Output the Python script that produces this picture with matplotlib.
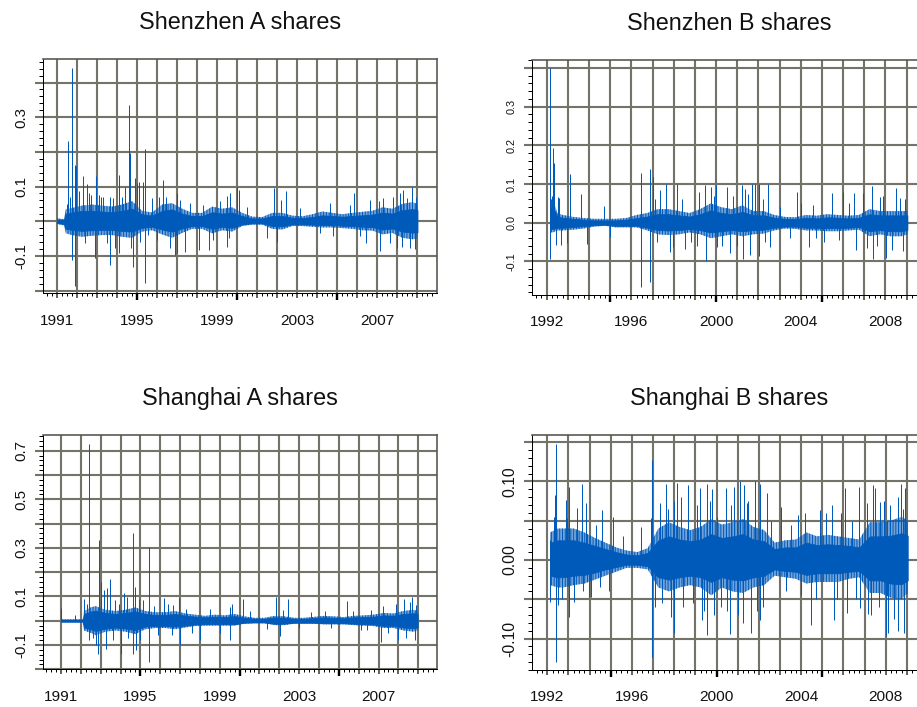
import matplotlib
matplotlib.use("Agg")
import matplotlib.pyplot as plt
import matplotlib.transforms as mtransforms
from matplotlib.ticker import FixedLocator, FixedFormatter
import numpy as np

plt.rcParams['font.family'] = ['Liberation Sans', 'DejaVu Sans']
plt.rcParams['hatch.linewidth'] = 0.7

# ---------------- data ----------------
titles = ["Shenzhen A shares", "Shenzhen B shares", "Shanghai A shares", "Shanghai B shares"]

# Shenzhen A: times, outer envelope of the dense band, solid inner band, and single spikes
sza_core_t = [1991.00, 1991.35, 1991.45, 1991.75, 1992.25, 1992.75, 1993.25, 1993.75, 1994.25, 1994.75,
              1995.25, 1995.75, 1996.25, 1996.75, 1997.25, 1997.75, 1998.25, 1998.75, 1999.25, 1999.75,
              2000.25, 2000.75, 2001.25, 2001.75, 2002.25, 2002.75, 2003.25, 2003.75, 2004.25, 2004.75,
              2005.25, 2005.75, 2006.25, 2006.75, 2007.25, 2007.75, 2008.25, 2008.75, 2009.00]
sza_outer_hi = [0.008, 0.006, 0.035, 0.038, 0.045, 0.048, 0.045, 0.042, 0.048, 0.058,
                0.030, 0.025, 0.048, 0.052, 0.036, 0.024, 0.024, 0.042, 0.036, 0.040,
                0.024, 0.013, 0.012, 0.024, 0.024, 0.016, 0.014, 0.020, 0.028, 0.024,
                0.020, 0.024, 0.027, 0.030, 0.040, 0.036, 0.050, 0.055, 0.050]
sza_outer_lo = [-0.008, -0.012, -0.035, -0.040, -0.045, -0.042, -0.040, -0.040, -0.045, -0.048,
                -0.030, -0.026, -0.038, -0.048, -0.034, -0.022, -0.022, -0.035, -0.026, -0.030,
                -0.014, -0.010, -0.010, -0.022, -0.024, -0.014, -0.014, -0.016, -0.018, -0.018,
                -0.020, -0.022, -0.026, -0.027, -0.038, -0.034, -0.048, -0.052, -0.050]
sza_dense_hi = [0.005, 0.004, 0.022, 0.025, 0.030, 0.030, 0.028, 0.026, 0.030, 0.036,
                0.020, 0.016, 0.030, 0.034, 0.022, 0.015, 0.015, 0.026, 0.022, 0.025,
                0.015, 0.008, 0.008, 0.015, 0.015, 0.010, 0.009, 0.012, 0.017, 0.015,
                0.013, 0.015, 0.017, 0.019, 0.025, 0.022, 0.032, 0.035, 0.032]
sza_dense_lo = [-0.005, -0.008, -0.022, -0.025, -0.028, -0.026, -0.025, -0.025, -0.028, -0.030,
                -0.019, -0.016, -0.024, -0.030, -0.021, -0.014, -0.014, -0.022, -0.016, -0.019,
                -0.009, -0.006, -0.006, -0.014, -0.015, -0.009, -0.009, -0.010, -0.011, -0.011,
                -0.013, -0.014, -0.016, -0.017, -0.024, -0.021, -0.030, -0.033, -0.032]
sza_spikes = [(1991.48, 0.050), (1991.57, 0.232), (1991.65, 0.071), (1991.77, 0.441), (1991.77, -0.112),
              (1991.90, 0.163), (1991.90, -0.188), (1991.95, 0.160), (1992.11, 0.086), (1992.28, 0.131),
              (1992.40, -0.063), (1992.48, 0.108), (1992.61, 0.081), (1992.68, 0.076), (1992.88, -0.107),
              (1992.93, 0.131), (1993.08, 0.076), (1993.18, 0.070), (1993.31, 0.071), (1993.51, -0.063),
              (1993.65, -0.127), (1993.65, 0.070), (1993.81, 0.066), (1993.90, -0.078), (1994.10, 0.134),
              (1994.10, -0.092), (1994.23, 0.071), (1994.40, 0.100), (1994.58, 0.336), (1994.65, 0.196),
              (1994.70, -0.078), (1994.78, -0.133), (1994.90, 0.124), (1994.98, 0.110), (1995.12, 0.114),
              (1995.14, -0.059), (1995.32, 0.114), (1995.41, 0.209), (1995.41, -0.179), (1995.55, -0.040),
              (1995.73, 0.066), (1995.98, -0.054), (1996.10, 0.070), (1996.30, 0.119), (1996.47, 0.071),
              (1996.64, -0.078), (1996.88, -0.097), (1996.97, -0.092), (1997.00, 0.080), (1997.14, 0.062),
              (1997.39, -0.088), (1997.64, 0.052), (1998.10, -0.083), (1998.30, 0.047), (1998.60, -0.083),
              (1998.80, -0.054), (1999.14, 0.057), (1999.50, 0.073), (1999.50, -0.073), (1999.57, -0.049),
              (1999.64, 0.081), (2000.00, 0.100), (2000.10, 0.090), (2000.47, 0.042), (2001.47, -0.049),
              (2001.83, 0.095), (2002.00, -0.059), (2002.21, 0.062), (2002.46, 0.086), (2003.13, 0.038),
              (2004.13, -0.035), (2004.63, 0.052), (2004.79, -0.044), (2005.63, 0.047), (2005.83, 0.081),
              (2006.12, -0.044), (2006.45, -0.063), (2006.62, 0.062), (2007.10, 0.057), (2007.12, -0.086),
              (2007.29, 0.066), (2007.62, -0.063), (2007.79, 0.071), (2008.00, -0.078), (2008.12, 0.081),
              (2008.22, -0.073), (2008.28, 0.090), (2008.48, 0.067), (2008.62, -0.078), (2008.74, 0.100),
              (2008.87, -0.081), (2008.95, 0.071)]

# Shenzhen B
szb_core_t = [1992.16, 1992.30, 1992.50, 1992.75, 1993.25, 1993.75, 1994.25, 1994.75, 1995.25, 1995.75,
              1996.25, 1996.75, 1997.25, 1997.75, 1998.25, 1998.75, 1999.25, 1999.75, 2000.25, 2000.75,
              2001.25, 2001.75, 2002.25, 2002.75, 2003.25, 2003.75, 2004.25, 2004.75, 2005.25, 2005.75,
              2006.25, 2006.75, 2007.25, 2007.75, 2008.25, 2008.75, 2009.04]
szb_outer_hi = [0.060, 0.060, 0.025, 0.020, 0.015, 0.012, 0.010, 0.010, 0.010, 0.012,
                0.020, 0.025, 0.035, 0.035, 0.030, 0.025, 0.035, 0.050, 0.040, 0.035,
                0.045, 0.030, 0.030, 0.020, 0.015, 0.014, 0.020, 0.018, 0.022, 0.020,
                0.018, 0.020, 0.035, 0.030, 0.030, 0.030, 0.030]
szb_outer_lo = [-0.025, -0.025, -0.020, -0.020, -0.018, -0.015, -0.010, -0.008, -0.012, -0.012,
                -0.012, -0.020, -0.030, -0.032, -0.030, -0.025, -0.030, -0.040, -0.035, -0.030,
                -0.035, -0.030, -0.028, -0.020, -0.015, -0.016, -0.020, -0.020, -0.022, -0.022,
                -0.020, -0.018, -0.035, -0.030, -0.035, -0.035, -0.030]
szb_dense_hi = [0.040, 0.040, 0.016, 0.013, 0.010, 0.008, 0.006, 0.006, 0.006, 0.008,
                0.012, 0.016, 0.022, 0.022, 0.019, 0.016, 0.022, 0.032, 0.025, 0.022,
                0.028, 0.019, 0.019, 0.013, 0.010, 0.009, 0.013, 0.011, 0.014, 0.013,
                0.011, 0.013, 0.022, 0.019, 0.019, 0.019, 0.019]
szb_dense_lo = [-0.016, -0.016, -0.013, -0.013, -0.011, -0.009, -0.006, -0.005, -0.008, -0.008,
                -0.008, -0.013, -0.019, -0.020, -0.019, -0.016, -0.019, -0.025, -0.022, -0.019,
                -0.022, -0.019, -0.018, -0.013, -0.010, -0.010, -0.013, -0.013, -0.014, -0.014,
                -0.013, -0.011, -0.022, -0.019, -0.022, -0.022, -0.019]
szb_spikes = [(1992.16, 0.399), (1992.16, -0.094), (1992.25, 0.070), (1992.30, 0.192), (1992.33, 0.120),
              (1992.36, 0.153), (1992.44, -0.058), (1992.52, 0.067), (1992.60, 0.063), (1992.69, -0.058),
              (1992.98, -0.052), (1993.09, 0.125), (1993.62, 0.073), (1993.89, -0.055), (1994.72, 0.044),
              (1994.99, -0.036), (1996.46, 0.129), (1996.46, -0.166), (1996.90, 0.138), (1996.90, -0.153),
              (1997.00, 0.118), (1997.10, 0.060), (1997.20, -0.050), (1997.35, 0.085), (1997.62, 0.100),
              (1997.83, -0.075), (1997.98, -0.062), (1998.14, 0.100), (1998.40, 0.060), (1998.55, -0.068),
              (1998.80, -0.050), (1999.10, -0.060), (1999.21, 0.080), (1999.46, 0.097), (1999.54, -0.098),
              (1999.78, 0.093), (1999.90, 0.070), (2000.00, 0.097), (2000.05, -0.064), (2000.30, -0.060),
              (2000.50, 0.093), (2000.66, -0.079), (2000.80, 0.070), (2001.00, -0.060), (2001.21, 0.097),
              (2001.26, -0.094), (2001.37, 0.087), (2001.50, 0.075), (2001.61, -0.084), (2001.69, 0.100),
              (2001.84, 0.100), (2002.03, 0.100), (2002.05, -0.086), (2002.20, 0.060), (2002.30, -0.050),
              (2002.47, 0.100), (2002.55, -0.062), (2003.02, 0.040), (2003.50, -0.040), (2003.81, 0.080),
              (2004.00, 0.050), (2004.41, -0.062), (2004.60, 0.045), (2004.72, -0.040), (2005.10, -0.050),
              (2005.46, 0.076), (2005.80, -0.045), (2006.02, 0.080), (2006.30, 0.050), (2006.53, 0.076),
              (2006.61, -0.070), (2006.96, 0.076), (2007.12, -0.066), (2007.39, 0.096), (2007.43, -0.094),
              (2007.60, -0.060), (2007.75, 0.067), (2007.90, 0.070), (2008.03, -0.090), (2008.30, -0.070),
              (2008.50, 0.089), (2008.70, 0.065), (2008.85, -0.073), (2008.93, 0.060)]

# Shanghai A
sha_core_t = [1991.00, 1992.10, 1992.16, 1992.50, 1992.75, 1993.25, 1993.75, 1994.25, 1994.75, 1995.25,
              1995.75, 1996.25, 1996.75, 1997.25, 1997.75, 1998.25, 1998.75, 1999.25, 1999.75, 2000.25,
              2000.75, 2001.25, 2001.75, 2002.25, 2002.75, 2003.25, 2003.75, 2004.25, 2004.75, 2005.25,
              2005.75, 2006.25, 2006.75, 2007.25, 2007.75, 2008.25, 2008.75, 2008.97]
sha_outer_hi = [0.006, 0.006, 0.040, 0.055, 0.060, 0.045, 0.040, 0.045, 0.055, 0.040,
                0.035, 0.035, 0.040, 0.030, 0.025, 0.020, 0.025, 0.022, 0.028, 0.018,
                0.012, 0.012, 0.020, 0.018, 0.012, 0.012, 0.016, 0.020, 0.018, 0.015,
                0.020, 0.022, 0.025, 0.032, 0.030, 0.040, 0.045, 0.040]
sha_outer_lo = [-0.006, -0.006, -0.040, -0.050, -0.060, -0.045, -0.040, -0.045, -0.055, -0.035,
                -0.030, -0.030, -0.035, -0.028, -0.022, -0.020, -0.020, -0.020, -0.020, -0.012,
                -0.010, -0.010, -0.018, -0.018, -0.012, -0.012, -0.012, -0.015, -0.015, -0.015,
                -0.018, -0.020, -0.022, -0.030, -0.030, -0.040, -0.045, -0.040]
sha_dense_hi = [0.004, 0.004, 0.028, 0.038, 0.042, 0.032, 0.028, 0.032, 0.038, 0.028,
                0.024, 0.024, 0.028, 0.021, 0.017, 0.014, 0.017, 0.015, 0.019, 0.012,
                0.008, 0.008, 0.014, 0.012, 0.008, 0.008, 0.011, 0.014, 0.012, 0.010,
                0.014, 0.015, 0.017, 0.022, 0.021, 0.028, 0.031, 0.028]
sha_dense_lo = [-0.004, -0.004, -0.028, -0.035, -0.042, -0.032, -0.028, -0.032, -0.038, -0.024,
                -0.021, -0.021, -0.024, -0.020, -0.015, -0.014, -0.014, -0.014, -0.014, -0.008,
                -0.007, -0.007, -0.012, -0.012, -0.008, -0.008, -0.008, -0.010, -0.010, -0.010,
                -0.012, -0.014, -0.015, -0.021, -0.021, -0.028, -0.031, -0.028]
sha_spikes = [(1991.02, 0.051), (1991.69, 0.023), (1992.16, 0.089), (1992.30, 0.070), (1992.43, 0.728),
              (1992.43, -0.080), (1992.60, -0.070), (1992.76, -0.100), (1992.88, -0.135), (1992.91, 0.332),
              (1993.00, 0.161), (1993.17, 0.126), (1993.27, -0.118), (1993.30, 0.133), (1993.47, 0.170),
              (1993.60, -0.080), (1993.72, 0.085), (1993.90, 0.070), (1994.00, -0.135), (1994.19, 0.115),
              (1994.31, 0.096), (1994.40, -0.070), (1994.61, 0.360), (1994.64, 0.202), (1994.64, -0.135),
              (1994.71, 0.140), (1994.78, -0.121), (1994.95, 0.089), (1995.00, -0.080), (1995.15, 0.085),
              (1995.43, 0.305), (1995.43, -0.169), (1995.70, 0.060), (1995.90, -0.060), (1996.19, 0.092),
              (1996.40, 0.070), (1996.60, -0.060), (1996.66, 0.065), (1996.94, 0.095), (1996.99, -0.100),
              (1997.30, 0.050), (1997.60, -0.050), (1998.00, -0.080), (1998.50, 0.050), (1999.00, -0.050),
              (1999.51, -0.080), (1999.51, 0.058), (1999.60, 0.070), (2000.15, 0.088), (2000.50, 0.040),
              (2001.40, -0.035), (2001.83, 0.099), (2002.06, -0.063), (2002.20, 0.045), (2002.45, 0.089),
              (2003.00, -0.030), (2003.60, 0.035), (2004.30, 0.040), (2004.60, -0.030), (2005.42, 0.081),
              (2005.70, 0.040), (2006.10, -0.040), (2006.40, -0.038), (2006.60, 0.045), (2007.12, -0.087),
              (2007.20, 0.060), (2007.50, -0.050), (2007.90, 0.070), (2007.99, -0.080), (2008.29, 0.089),
              (2008.40, -0.070), (2008.58, 0.078), (2008.71, 0.099), (2008.83, -0.080), (2008.90, 0.065)]

# Shanghai B
shb_core_t = [1992.13, 1992.50, 1992.75, 1993.25, 1993.75, 1994.25, 1994.75, 1995.25, 1995.75, 1996.25,
              1996.75, 1997.25, 1997.75, 1998.25, 1998.75, 1999.25, 1999.75, 2000.25, 2000.75, 2001.25,
              2001.75, 2002.25, 2002.75, 2003.25, 2003.75, 2004.25, 2004.75, 2005.25, 2005.75, 2006.25,
              2006.75, 2007.25, 2007.75, 2008.25, 2008.75, 2009.04]
shb_outer_hi = [0.035, 0.040, 0.040, 0.040, 0.035, 0.028, 0.022, 0.016, 0.012, 0.010,
                0.015, 0.040, 0.048, 0.042, 0.038, 0.042, 0.052, 0.045, 0.048, 0.052,
                0.042, 0.038, 0.022, 0.025, 0.026, 0.035, 0.030, 0.032, 0.030, 0.028,
                0.026, 0.048, 0.048, 0.050, 0.055, 0.050]
shb_outer_lo = [-0.032, -0.035, -0.035, -0.032, -0.030, -0.025, -0.020, -0.015, -0.010, -0.010,
                -0.012, -0.035, -0.040, -0.035, -0.032, -0.035, -0.045, -0.035, -0.040, -0.042,
                -0.035, -0.032, -0.020, -0.022, -0.024, -0.030, -0.028, -0.028, -0.028, -0.024,
                -0.022, -0.042, -0.042, -0.048, -0.050, -0.042]
shb_dense_hi = [0.022, 0.025, 0.025, 0.025, 0.022, 0.018, 0.014, 0.010, 0.007, 0.006,
                0.009, 0.025, 0.030, 0.026, 0.024, 0.026, 0.033, 0.028, 0.030, 0.033,
                0.026, 0.024, 0.014, 0.016, 0.016, 0.022, 0.019, 0.020, 0.019, 0.018,
                0.016, 0.030, 0.030, 0.031, 0.034, 0.031]
shb_dense_lo = [-0.020, -0.022, -0.022, -0.020, -0.019, -0.016, -0.012, -0.009, -0.006, -0.006,
                -0.008, -0.022, -0.025, -0.022, -0.020, -0.022, -0.028, -0.022, -0.025, -0.026,
                -0.022, -0.020, -0.012, -0.014, -0.015, -0.019, -0.017, -0.017, -0.017, -0.015,
                -0.014, -0.026, -0.026, -0.030, -0.031, -0.026]
shb_spikes = [(1992.13, 0.025), (1992.13, -0.053), (1992.31, 0.055), (1992.36, 0.083), (1992.43, 0.148),
              (1992.43, -0.130), (1992.50, -0.057), (1992.70, -0.050), (1992.87, 0.076), (1992.91, 0.053),
              (1993.02, 0.093), (1993.02, -0.073), (1993.26, -0.054), (1993.40, 0.050), (1993.42, 0.066),
              (1993.62, 0.097), (1993.70, -0.040), (1993.84, 0.072), (1993.97, -0.047), (1994.08, -0.047),
              (1994.30, 0.045), (1994.50, -0.035), (1994.60, 0.063), (1994.91, -0.040), (1995.10, 0.055),
              (1995.59, 0.030), (1996.41, 0.042), (1996.88, 0.053), (1996.96, 0.127), (1996.96, -0.123),
              (1997.10, -0.060), (1997.31, 0.072), (1997.40, -0.055), (1997.62, 0.097), (1997.70, 0.065),
              (1997.87, -0.072), (1997.98, -0.093), (1998.00, 0.075), (1998.14, 0.098), (1998.30, 0.080),
              (1998.40, -0.060), (1998.66, 0.095), (1998.90, -0.055), (1999.10, 0.070), (1999.24, 0.091),
              (1999.32, -0.076), (1999.40, -0.065), (1999.53, 0.097), (1999.56, -0.095), (1999.70, 0.075),
              (1999.80, 0.090), (1999.90, -0.070), (2000.03, 0.055), (2000.20, -0.060), (2000.43, 0.091),
              (2000.50, -0.065), (2000.63, -0.094), (2000.70, 0.070), (2000.82, 0.093), (2001.00, -0.070),
              (2001.13, 0.100), (2001.24, -0.080), (2001.29, 0.095), (2001.42, 0.072), (2001.50, 0.075),
              (2001.64, -0.093), (2001.84, 0.100), (2001.90, -0.065), (2002.05, 0.097), (2002.08, -0.076),
              (2002.20, -0.060), (2002.39, 0.085), (2002.60, 0.050), (2003.06, 0.067), (2003.30, -0.040),
              (2003.50, 0.045), (2003.84, 0.057), (2004.00, -0.045), (2004.20, 0.060), (2004.47, -0.083),
              (2004.70, -0.050), (2004.91, 0.064), (2005.20, 0.060), (2005.46, 0.070), (2005.54, -0.076),
              (2005.70, -0.050), (2005.90, 0.060), (2006.09, 0.091), (2006.17, -0.068), (2006.40, 0.050),
              (2006.60, -0.050), (2006.72, 0.093), (2006.80, -0.061), (2007.12, 0.072), (2007.15, -0.069),
              (2007.30, -0.070), (2007.39, 0.095), (2007.51, 0.091), (2007.70, -0.060), (2007.75, 0.074),
              (2007.90, 0.075), (2008.03, -0.097), (2008.11, -0.093), (2008.20, 0.070), (2008.40, -0.075),
              (2008.57, -0.091), (2008.60, 0.080), (2008.72, 0.097), (2008.80, 0.065), (2008.85, -0.093),
              (2008.93, 0.091)]

# tick labels
ytick_sza = [-0.1, 0.1, 0.3]
ytick_szb = [-0.1, 0.0, 0.1, 0.2, 0.3]
ytick_sha = [-0.1, 0.1, 0.3, 0.5, 0.7]
ytick_shb = [-0.10, 0.00, 0.10]
ylab_sza = ["-0.1", "0.1", "0.3"]
ylab_szb = ["-0.1", "0.0", "0.1", "0.2", "0.3"]
ylab_sha = ["-0.1", "0.1", "0.3", "0.5", "0.7"]
ylab_shb = ["-0.10", "0.00", "0.10"]
xtick_left = [1991, 1995, 1999, 2003, 2007]
xtick_right = [1992, 1996, 2000, 2004, 2008]

# ---------------- drawing ----------------
W, H, DPI = 917, 707, 100
fig = plt.figure(figsize=(W / DPI, H / DPI), dpi=DPI)

BLUE = '#005ABA'
GRID = '#74736a'


def P(v):  # pixels -> points
    return v * 72.0 / DPI


def panel(box, xlim, ylim, title, core_t, outer_hi, outer_lo, dense_hi, dense_lo, spikes,
          gstep, mstep, ylabv, ylabt, ysize, xlabv, title_x):
    x0, y0, x1, y1 = box  # pixel box (top-left origin)
    ax = fig.add_axes([x0 / W, 1 - y1 / H, (x1 - x0) / W, (y1 - y0) / H])
    ax.set_xlim(xlim)
    ax.set_ylim(ylim)

    # grid
    years = np.arange(int(np.ceil(xlim[0])), int(np.floor(xlim[1])) + 1)
    gvals = np.round(np.arange(np.ceil(ylim[0] / gstep - 1e-6) * gstep, ylim[1] + 1e-9, gstep), 4)
    for yv in years:
        ax.axvline(yv, color=GRID, lw=P(2.1), zorder=1)
    for gv in gvals:
        ax.axhline(gv, color=GRID, lw=P(2.1), zorder=1)

    # data: outer band as a forest of thin lines, inner band solid, spikes
    ax.fill_between(core_t, outer_lo, outer_hi, facecolor=(0.0, 0.353, 0.729, 0.55),
                    edgecolor=BLUE, hatch='||||||', lw=0, zorder=2)
    ax.fill_between(core_t, dense_lo, dense_hi, color=BLUE, lw=P(0.8), edgecolor=BLUE, zorder=3)
    st = [s[0] for s in spikes]
    sv = [s[1] for s in spikes]
    ax.vlines(st, 0, sv, color=BLUE, lw=P(1.0), zorder=3)

    # y axis ticks
    ax.yaxis.set_major_locator(FixedLocator(gvals))
    labs = []
    for gv in gvals:
        lab = ""
        for v, t in zip(ylabv, ylabt):
            if abs(v - gv) < 1e-6:
                lab = t
        labs.append(lab)
    ax.yaxis.set_major_formatter(FixedFormatter(labs))
    mvals = np.round(np.arange(np.ceil(ylim[0] / mstep) * mstep, ylim[1], mstep), 4)
    ax.yaxis.set_minor_locator(FixedLocator(mvals))
    ax.tick_params(axis='y', which='major', length=P(7.7), width=P(2.1), color=GRID,
                   pad=P(7), labelsize=ysize, labelcolor='#111111')
    ax.tick_params(axis='y', which='minor', length=P(3.8), width=P(1.0), color='black')
    for lab in ax.get_yticklabels():
        lab.set_rotation(90)
        lab.set_va('center')

    # x axis ticks
    ax.xaxis.set_major_locator(FixedLocator(years))
    xl = [str(y) if y in xlabv else "" for y in years]
    ax.xaxis.set_major_formatter(FixedFormatter(xl))
    q = np.arange(years[0] - 1, years[-1] + 1.01, 0.25)
    q = q[(q > xlim[0]) & (q < xlim[1])]
    ax.xaxis.set_minor_locator(FixedLocator(q))
    ax.tick_params(axis='x', which='major', length=P(4.8), width=P(1.8), color='#55554d',
                   pad=P(15.5), labelsize=11.1, labelcolor='#111111')
    ax.tick_params(axis='x', which='minor', length=P(2.6), width=P(1.0), color='black')
    trans = mtransforms.blended_transform_factory(ax.transData, ax.transAxes)
    for by in (1995, 2000, 2005):
        if xlim[0] < by < xlim[1]:
            ax.plot([by, by], [0, -7.0 / (y1 - y0)], transform=trans,
                    color='black', lw=P(2.4), clip_on=False, zorder=5, solid_capstyle='butt')

    for s in ('left', 'bottom'):
        ax.spines[s].set_color('black')
        ax.spines[s].set_linewidth(P(1.0))
    for s in ('top', 'right'):
        ax.spines[s].set_color('#55554d')
        ax.spines[s].set_linewidth(P(1.6))
    for s in ax.spines.values():
        s.set_zorder(4)

    fig.text(title_x / W, 1 - (y0 - 30.5) / H, title, ha='center', va='baseline',
             fontsize=16.8, color='#111111')
    return ax


panel((42.7, 59.3, 437.3, 293.3), (1990.29, 2009.99), (-0.208, 0.467), titles[0],
      sza_core_t, sza_outer_hi, sza_outer_lo, sza_dense_hi, sza_dense_lo, sza_spikes, 0.1, 0.02,
      ytick_sza, ylab_sza, 10.8, xtick_left, 240)
panel((531.7, 60.0, 927.7, 294.5), (1991.29, 2010.0), (-0.1855, 0.4204), titles[1],
      szb_core_t, szb_outer_hi, szb_outer_lo, szb_dense_hi, szb_dense_lo, szb_spikes, 0.1, 0.02,
      ytick_szb, ylab_szb, 7.8, xtick_right, 729)
panel((42.7, 435.0, 437.3, 669.3), (1990.08, 2009.96), (-0.2, 0.765), titles[2],
      sha_core_t, sha_outer_hi, sha_outer_lo, sha_dense_hi, sha_dense_lo, sha_spikes, 0.1, 0.02,
      ytick_sha, ylab_sha, 10.8, xtick_left, 240)
panel((532.3, 435.0, 928.0, 670.0), (1991.29, 2010.0), (-0.14, 0.159), titles[3],
      shb_core_t, shb_outer_hi, shb_outer_lo, shb_dense_hi, shb_dense_lo, shb_spikes, 0.05, 0.01,
      ytick_shb, ylab_shb, 11.3, xtick_right, 729)

fig.savefig("out.png", dpi=DPI)
